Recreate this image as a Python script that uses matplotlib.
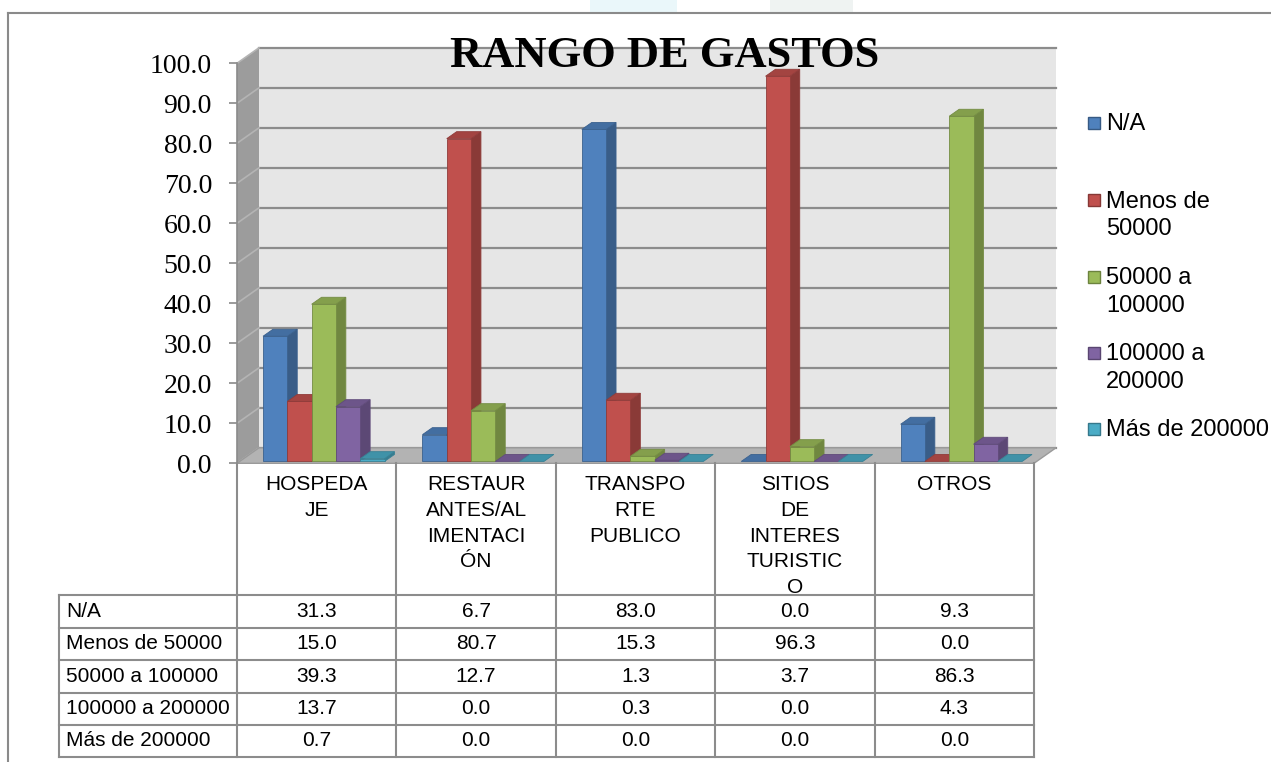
import matplotlib
matplotlib.use("Agg")
import matplotlib.pyplot as plt
from matplotlib.patches import Polygon, Rectangle
from matplotlib.ticker import FormatStrFormatter
from matplotlib.colors import to_rgb

# ---- data -------------------------------------------------------------
categories = ["HOSPEDA\nJE", "RESTAUR\nANTES/AL\nIMENTACI\nÓN", "TRANSPO\nRTE\nPUBLICO",
              "SITIOS\nDE\nINTERES\nTURISTIC\nO", "OTROS"]
series = ["N/A", "Menos de 50000", "50000 a 100000", "100000 a 200000", "Más de 200000"]
legend_labels = ["N/A", "Menos de\n50000", "50000 a\n100000", "100000 a\n200000", "Más de 200000"]
na_vals = [31.3, 6.7, 83.0, 0.0, 9.3]
menos50k_vals = [15.0, 80.7, 15.3, 96.3, 0.0]
r50k_100k_vals = [39.3, 12.7, 1.3, 3.7, 86.3]
r100k_200k_vals = [13.7, 0.0, 0.3, 0.0, 4.3]
mas200k_vals = [0.7, 0.0, 0.0, 0.0, 0.0]
values = [na_vals, menos50k_vals, r50k_100k_vals, r100k_200k_vals, mas200k_vals]
colors = ["#4F81BD", "#C0504D", "#9BBB59", "#8064A2", "#4BACC6"]
title = "RANGO DE GASTOS"

# ---- layout (pixels) --------------------------------------------------
W, H = 1271, 762
PX_L, PX_R = 237, 1034          # front plane of the category axis
PX_Y0, PX_Y100 = 463.3, 63.3    # value 0 / value 100
CAT_PX = (PX_R - PX_L) / 5
VAL_PX = (PX_Y0 - PX_Y100) / 100
DX = 22 / CAT_PX                # 3D depth offset in data units
DY = 15.5 / VAL_PX
F0, F1 = 0.12, 0.57             # bar depth range (fraction of box depth)
BAR_OFF, BAR_W = 23.4 / CAT_PX, 24.3 / CAT_PX

SERIF = "Liberation Serif"
SANS = "Liberation Sans"


def shade(c, k):
    r, g, b = to_rgb(c)
    return (r * k, g * k, b * k)


fig = plt.figure(figsize=(W / 100, H / 100), dpi=100)

# faint watermark and the outer chart border
fig.patches.append(Rectangle((590 / W, 1 - 12 / H), 87 / W, 12 / H, transform=fig.transFigure,
                             facecolor="#eaf7fa", edgecolor="none"))
fig.patches.append(Rectangle((770 / W, 1 - 12 / H), 83 / W, 12 / H, transform=fig.transFigure,
                             facecolor="#eff3f2", edgecolor="none"))
fig.lines.append(plt.Line2D([8 / W, 1], [1 - 13 / H, 1 - 13 / H], transform=fig.transFigure,
                            color="#8a8a8a", lw=1.5))
fig.lines.append(plt.Line2D([8 / W, 8 / W], [0, 1 - 13 / H], transform=fig.transFigure,
                            color="#8a8a8a", lw=1.5))

ax = fig.add_axes([PX_L / W, 1 - PX_Y0 / H, (PX_R - PX_L) / W, (PX_Y0 - PX_Y100) / H])
ax.set_xlim(0, 5)
ax.set_ylim(0, 100)
ax.patch.set_visible(False)
for side in ("top", "right", "bottom"):
    ax.spines[side].set_visible(False)
ax.spines["left"].set_color("#8a8a8a")
ax.spines["left"].set_linewidth(1.2)
ax.set_xticks([])
ax.set_yticks(range(0, 101, 10))
ax.yaxis.set_major_formatter(FormatStrFormatter("%.1f"))
ax.tick_params(axis="y", length=6, width=1.2, color="#8a8a8a", pad=12,
               labelsize=20, labelfontfamily=SERIF)

# back wall, left wall, floor
ax.add_patch(Polygon([(DX, DY), (5 + DX, DY), (5 + DX, 100 + DY), (DX, 100 + DY)],
                     closed=True, facecolor="#e6e6e6", edgecolor="none", zorder=1, clip_on=False))
ax.add_patch(Polygon([(0, 0), (DX, DY), (DX, 100 + DY), (0, 100)],
                     closed=True, facecolor="#9c9c9c", edgecolor="none", zorder=1, clip_on=False))
for v in range(0, 101, 10):
    ax.plot([DX, 5 + DX], [v + DY, v + DY], color="#8c8c8c", lw=1.6, zorder=2, clip_on=False)
    ax.plot([0, DX], [v, v + DY], color="#b4b4b4", lw=1.2, zorder=2, clip_on=False)
ax.add_patch(Polygon([(0, 0), (5, 0), (5 + DX, DY), (DX, DY)],
                     closed=True, facecolor="#b3b3b3", edgecolor="#9a9a9a", lw=1.0,
                     zorder=2.5, clip_on=False))

# 3D bars, drawn left to right so later bars hide earlier side faces
z = 3
for i in range(len(categories)):
    for j, vals in enumerate(values):
        h = vals[i]
        c = colors[j]
        xl = i + BAR_OFF + j * BAR_W + F0 * DX
        y0 = F0 * DY
        ddx = (F1 - F0) * DX
        y1 = F1 * DY
        edge = shade(c, 0.75)
        if h > 0:
            side = [(xl + BAR_W, y0), (xl + BAR_W + ddx, y1), (xl + BAR_W + ddx, h + y1), (xl + BAR_W, h + y0)]
            ax.add_patch(Polygon(side, closed=True, facecolor=shade(c, 0.72), edgecolor=edge,
                                 lw=0.6, zorder=z, clip_on=False))
            ax.add_patch(Rectangle((xl, y0), BAR_W, h, facecolor=c, edgecolor=edge,
                                   lw=0.6, zorder=z + 0.1, clip_on=False))
        top = [(xl, h + y0), (xl + BAR_W, h + y0), (xl + BAR_W + ddx, h + y1), (xl + ddx, h + y1)]
        ax.add_patch(Polygon(top, closed=True, facecolor=shade(c, 0.85), edgecolor=edge,
                             lw=0.6, zorder=z + 0.2, clip_on=False))
        z += 0.3

fig.text(665 / W, 1 - 67 / H, title, ha="center", va="baseline",
         fontsize=32, fontweight="bold", family=SERIF, zorder=10)

# data table below the plot: x in categories, y in pixels from the top
tax = fig.add_axes([PX_L / W, 0, (PX_R - PX_L) / W, 1])
tax.set_xlim(0, 5)
tax.set_ylim(H, 0)
tax.axis("off")
row_edges = [595, 627.5, 660, 692.5, 725, 757]
x_lab = (59 - PX_L) / CAT_PX
line_kw = dict(color="#8c8c8c", lw=1.5, clip_on=False)
for k in range(6):
    tax.plot([k, k], [PX_Y0, row_edges[-1]], **line_kw)
tax.plot([x_lab, x_lab], [row_edges[0], row_edges[-1]], **line_kw)
for y in row_edges:
    tax.plot([x_lab, 5], [y, y], **line_kw)
for i, cat in enumerate(categories):
    tax.text(i + 0.5, 475, cat, ha="center", va="top", fontsize=15, family=SANS,
             linespacing=1.45)
for r, name in enumerate(series):
    yc = (row_edges[r] + row_edges[r + 1]) / 2
    tax.text((66 - PX_L) / CAT_PX, yc, name, ha="left", va="center", fontsize=15, family=SANS)
    for i in range(len(categories)):
        tax.text(i + 0.5, yc, f"{values[r][i]:.1f}", ha="center", va="center",
                 fontsize=15, family=SANS)

# legend
leg_y = [123, 200, 277, 353, 429]
for lab, c, y in zip(legend_labels, colors, leg_y):
    fig.patches.append(Rectangle((1088 / W, 1 - (y + 6) / H), 12 / W, 12 / H,
                                 transform=fig.transFigure, facecolor=c,
                                 edgecolor=shade(c, 0.7), lw=1.0))
    fig.text(1106 / W, 1 - (y - 9.5) / H, lab, ha="left", va="top", fontsize=17,
             family=SANS, linespacing=1.35)

fig.savefig("out.png", dpi=100)
